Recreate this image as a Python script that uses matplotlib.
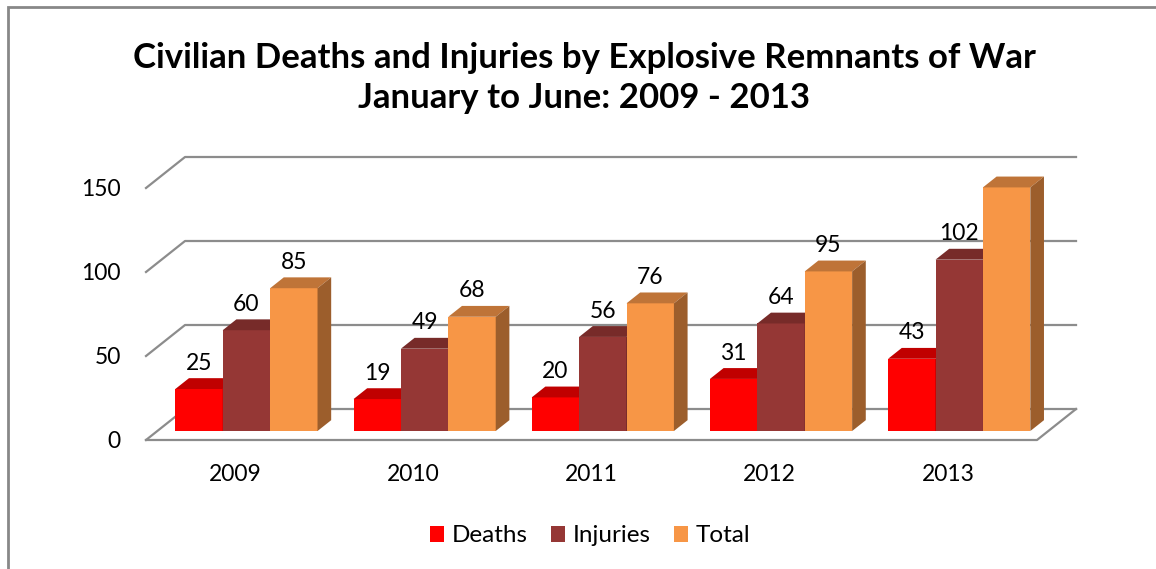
import numpy as np
import matplotlib
matplotlib.use("Agg")
import matplotlib.pyplot as plt
from matplotlib.patches import Polygon, Patch, Rectangle

# --- data ---
years = ['2009', '2010', '2011', '2012', '2013']
deaths = [25, 19, 20, 31, 43]
injuries = [60, 49, 56, 64, 102]
total = [85, 68, 76, 95, 145]
series_names = ['Deaths', 'Injuries', 'Total']
yticks = [0, 50, 100, 150]

# colours: front, top, side
cols = [('#FF0000', '#C00000', '#A00000'),
        ('#953735', '#772B29', '#5E2220'),
        ('#F79646', '#BF7438', '#9C5E2C')]

plt.rcParams['font.family'] = ['Lato', 'DejaVu Sans']

fig = plt.figure(figsize=(11.56, 5.69), dpi=100)
ax = fig.add_axes([146 / 1156, 1 - 440 / 569, 891 / 1156, 252 / 569])
ax.set_xlim(-0.5, 4.5)
ax.set_ylim(0, 150)
for s in ax.spines.values():
    s.set_visible(False)

# fake 3D depth (data units)
DX, DY = 0.219, 18.45
f0, dd = 0.29, 0.35
grid_c = '#8C8C8C'

# floor + back wall gridlines
xl, xr = -0.5, 4.5
for v in yticks:
    ax.plot([xl, xl + DX, xr + DX], [v, v + DY, v + DY], color=grid_c, lw=1.6,
            clip_on=False, zorder=1)
ax.plot([xl, xr, xr + DX], [0, 0, DY], color=grid_c, lw=1.6, clip_on=False, zorder=1)

# bars
bw = 0.266
x = np.arange(len(years))
for k, vals in enumerate([deaths, injuries, total]):
    front, top, side = cols[k]
    xc = x + (k - 1) * bw + f0 * DX
    bars = ax.bar(xc, vals, width=bw, bottom=f0 * DY, color=front, zorder=3 + k,
                  clip_on=False)
    for b, v in zip(bars, vals):
        x0, x1 = b.get_x(), b.get_x() + b.get_width()
        y0, y1 = b.get_y(), b.get_y() + b.get_height()
        ax.add_patch(Polygon([(x0, y1), (x1, y1), (x1 + dd * DX, y1 + dd * DY),
                              (x0 + dd * DX, y1 + dd * DY)], closed=True,
                             facecolor=top, edgecolor='none', zorder=3 + k, clip_on=False))
        ax.add_patch(Polygon([(x1, y0), (x1, y1), (x1 + dd * DX, y1 + dd * DY),
                              (x1 + dd * DX, y0 + dd * DY)], closed=True,
                             facecolor=side, edgecolor='none', zorder=3 + k, clip_on=False))
        ax.annotate(str(v), (b.get_x() + b.get_width() / 2, y1), xytext=(0, 11),
                    textcoords='offset points', ha='center', va='bottom',
                    fontsize=16.5, zorder=10)

ax.set_xticks(x)
ax.set_xticklabels(years, fontsize=16.5)
ax.set_yticks(yticks)
ax.set_yticklabels([str(t) for t in yticks], fontsize=16.5)
ax.tick_params(axis='both', length=0)
ax.tick_params(axis='x', pad=17)
ax.tick_params(axis='y', pad=18)

fig.text(584 / 1156, 1 - 78 / 569,
         'Civilian Deaths and Injuries by Explosive Remnants of War\nJanuary to June: 2009 - 2013',
         ha='center', va='center', fontsize=25, fontweight='bold', linespacing=1.28)

handles = [Patch(facecolor=c[0]) for c in cols]
fig.legend(handles, series_names, loc='center', bbox_to_anchor=(590 / 1156, 1 - 536 / 569),
           ncol=3, frameon=False, fontsize=17.5, handlelength=0.6, handleheight=0.6,
           handletextpad=0.3, columnspacing=0.95)

# outer frame (only left/top visible)
fig.add_artist(Rectangle((8 / 1156, -0.1), 1.2, 1 - 7 / 569 + 0.1, transform=fig.transFigure,
                         fill=False, edgecolor='#888888', lw=2))

fig.savefig('out.png', dpi=100)
